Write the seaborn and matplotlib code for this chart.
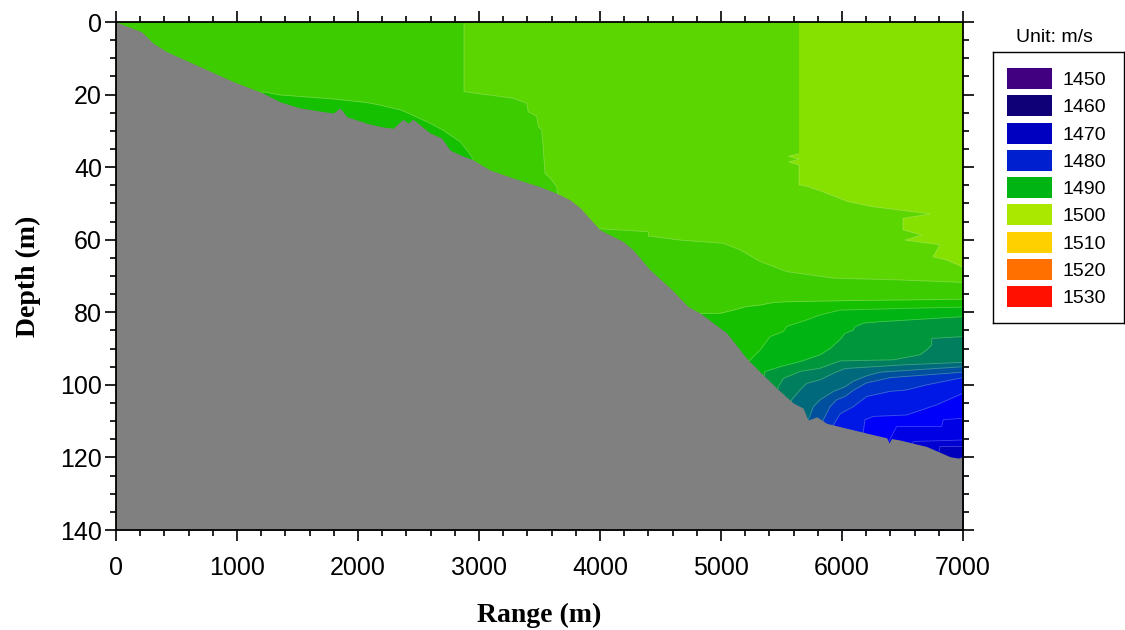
import matplotlib
matplotlib.use("Agg")
import matplotlib.pyplot as plt
from matplotlib.patches import Patch
from matplotlib.ticker import MultipleLocator
import seaborn as sns

# --- seabed profile (range in m, depth in m) ---
bed_range = [0, 212, 306, 419, 694, 967, 1215, 1355, 1521, 1795, 1851, 1908, 2072,
             2182, 2290, 2372, 2413, 2455, 2595, 2692, 2760, 2843, 2950, 3091, 3281,
             3504, 3642, 3752, 3835, 4000, 4190, 4273, 4413, 4579, 4727, 4826, 5047,
             5212, 5322, 5460, 5596, 5678, 5719, 5791, 5873, 5983, 6204, 6369, 6389,
             6409, 6479, 6700, 6893, 6960, 7000]
bed_depth = [0, 2.7, 5.8, 8.2, 12.3, 16.4, 19.6, 22.0, 23.7, 25.1, 23.7, 26.1, 27.9,
             28.8, 29.3, 26.8, 27.9, 26.8, 30.6, 32.0, 35.3, 36.6, 38.0, 40.8, 43.0,
             45.4, 47.2, 49.0, 51.2, 57.3, 60.5, 62.8, 68.3, 73.3, 78.4, 80.2, 85.7,
             92.7, 96.4, 100.9, 105.0, 106.4, 109.7, 108.8, 110.6, 111.5, 113.3, 114.6, 116.0,
             114.8, 115.2, 117.0, 119.8, 120.2, 119.8]

# --- upper water: middle block (polygon) ---
mid_range = [2876, 2876, 3008, 3281, 3394, 3406, 3477, 3490, 3518, 3530, 3545, 3587,
             3642, 3660, 3900, 4000, 4399, 4400, 4661, 5019, 5157, 5322, 5543, 5929,
             6480, 7000, 7000]
mid_depth = [0, 19.2, 19.8, 21.0, 22.4, 24.7, 26.0, 28.8, 29.8, 34.4, 41.7, 43.0,
             45.4, 50.0, 60.0, 57.0, 57.8, 59.0, 60.1, 61.0, 62.8, 66.0, 68.8, 70.6,
             71.1, 71.8, 0]

# --- upper water: right block (polygon) ---
right_range = [5645, 5645, 5560, 5645, 5560, 5645, 5645, 5700, 5843, 6050, 6256, 6727,
               6504, 6504, 6658, 6521, 6810, 6752, 6865, 6989, 7000, 7000]
right_depth = [0, 36.3, 37.0, 37.8, 38.6, 39.4, 44.9, 45.2, 46.8, 49.5, 50.9, 52.9,
               54.1, 57.3, 58.7, 60.1, 61.4, 64.7, 65.6, 67.4, 67.5, 0]

# --- deeper contour boundaries (each band is filled below its curve) ---
b4_range = [1150, 1215, 1355, 1795, 2072, 2182, 2347, 2413, 2595, 2702, 2843, 2940,
            3000, 4000, 4700, 4826, 4992, 5102, 5212, 5323, 5433, 5543, 6025, 6500, 7000]
b4_depth = [22, 19.2, 20.1, 21.2, 22.2, 22.9, 24.2, 25.1, 27.9, 29.8, 33.0, 37.1,
            45, 70, 85, 80.3, 80.3, 79.4, 78.4, 78.0, 77.3, 77.1, 76.8, 76.6, 76.4]
b5_range = [5150, 5226, 5323, 5405, 5515, 5543, 5708, 5819, 5983, 6534, 7000]
b5_depth = [100, 93.6, 90.4, 86.7, 85.3, 83.9, 82.1, 80.7, 79.4, 78.9, 78.6]
b6_range = [5300, 5364, 5488, 5653, 5819, 5901, 5983, 6024, 6093, 6107, 6176, 6314, 7000]
b6_depth = [105, 96.3, 95.0, 93.6, 91.7, 90.0, 87.5, 85.8, 84.9, 84.0, 83.0, 82.6, 81.2]
b7_range = [5420, 5474, 5515, 5653, 5819, 5983, 6424, 6644, 6699, 6741, 6741, 7000]
b7_depth = [108, 100.5, 98.2, 96.3, 95.4, 93.4, 93.1, 91.7, 90.4, 89.0, 87.2, 86.7]
b8_range = [5540, 5584, 5653, 5708, 5819, 5929, 6025, 6500, 7000]
b8_depth = [112, 104.1, 101.4, 99.6, 98.6, 96.8, 95.5, 94.5, 93.8]
b9_range = [5680, 5722, 5763, 5819, 5929, 6025, 6093, 6204, 6314, 7000]
b9_depth = [114, 109.6, 106.0, 104.1, 101.8, 100.5, 99.0, 97.5, 96.5, 95.0]
b10_range = [5800, 5846, 5901, 5956, 6025, 6093, 6200, 6400, 7000]
b10_depth = [116, 109.6, 106.0, 104.1, 103.2, 101.5, 99.5, 98.0, 96.5]
b11_range = [5880, 5929, 5984, 6093, 6204, 6396, 6534, 6699, 7000]
b11_depth = [117, 111.0, 108.0, 106.0, 103.2, 101.8, 101.4, 100.0, 98.0]
b12_range = [6130, 6176, 6190, 6259, 6534, 6782, 7000]
b12_depth = [118, 112.9, 109.6, 108.7, 108.3, 105.5, 102.3]
b13_range = [6350, 6451, 6823, 6837, 7000]
b13_depth = [118, 111.5, 111.5, 109.6, 109.2]
b14_range = [6550, 6589, 7000]
b14_depth = [120, 115.6, 115.2]
b15_range = [6780, 6810, 7000]
b15_depth = [122, 117.0, 117.0]

# band colours (left-top, middle, right-top, then deeper bands)
left_color = "#3CCC00"
mid_color = "#5CD600"
right_color = "#86E000"
deep_colors = ["#14C000", "#00B414", "#00963C", "#007E5E", "#006A7C", "#00509E",
               "#0034C8", "#0018E6", "#0000FA", "#0000E4", "#0000D0", "#0000BC"]
bed_color = "#808080"

# legend
legend_speeds = [1450, 1460, 1470, 1480, 1490, 1500, 1510, 1520, 1530]
legend_colors = ["#400080", "#100078", "#0000C0", "#0020D0", "#00B414",
                 "#AAE800", "#FFD000", "#FF7000", "#FF1000"]

sns.set_theme(style="ticks")
plt.rcParams["font.family"] = ["Liberation Sans", "DejaVu Sans"]
plt.rcParams.update({"text.color": "black", "axes.labelcolor": "black",
                     "xtick.color": "black", "ytick.color": "black"})

fig = plt.figure(figsize=(11.25, 6.3), dpi=100)
ax = fig.add_axes([116 / 1125, 1 - 530 / 630, (963 - 116) / 1125, (530 - 22) / 630])

max_depth = 140
# whole water column first, then blocks on top
ax.fill_between([0, 7000], 0, max_depth, color=left_color, lw=0)
ax.fill(mid_range, mid_depth, color=mid_color, lw=0)
ax.fill(right_range, right_depth, color=right_color, lw=0)

bounds = [(b4_range, b4_depth), (b5_range, b5_depth), (b6_range, b6_depth),
          (b7_range, b7_depth), (b8_range, b8_depth), (b9_range, b9_depth),
          (b10_range, b10_depth), (b11_range, b11_depth), (b12_range, b12_depth),
          (b13_range, b13_depth), (b14_range, b14_depth), (b15_range, b15_depth)]
for (r, d), c in zip(bounds, deep_colors):
    ax.fill_between(r, d, max_depth, color=c, lw=0)

# faint contour lines
line_sets = [(mid_range[:-1], mid_depth[:-1]), (right_range[1:-1], right_depth[1:-1])] + bounds
for r, d in line_sets:
    sns.lineplot(x=r, y=d, sort=False, estimator=None, ax=ax,
                 color="white", alpha=0.25, lw=0.6)

# seabed on top of everything in the water
ax.fill_between(bed_range, bed_depth, max_depth, color=bed_color, lw=0, zorder=2.2)

ax.set_xlim(0, 7000)
ax.set_ylim(max_depth, 0)
ax.xaxis.set_major_locator(MultipleLocator(1000))
ax.xaxis.set_minor_locator(MultipleLocator(200))
ax.yaxis.set_major_locator(MultipleLocator(20))
ax.yaxis.set_minor_locator(MultipleLocator(5))
ax.tick_params(which="both", direction="out", top=True, right=True,
               colors="black", width=1.2, labelsize=18)
ax.tick_params(which="major", length=8)
ax.tick_params(which="minor", length=4)
ax.tick_params(axis="x", which="major", pad=11)
ax.tick_params(axis="y", which="major", pad=2)
for s in ax.spines.values():
    s.set_linewidth(1.3)
    s.set_color("black")

label_font = dict(family=["Liberation Serif", "DejaVu Serif"], weight="bold", size=20)
ax.set_xlabel("Range (m)", fontdict=label_font, labelpad=16)
ax.set_ylabel("Depth (m)", fontdict=label_font, labelpad=14)

# legend box
lax = fig.add_axes([993 / 1125, 1 - 323 / 630, (1124 - 993) / 1125, (323 - 52) / 630])
lax.set_xticks([])
lax.set_yticks([])
for s in lax.spines.values():
    s.set_linewidth(1.0)
    s.set_color("black")
handles = [Patch(facecolor=c, edgecolor="none") for c in legend_colors]
lax.legend(handles, [str(v) for v in legend_speeds], loc="upper left",
           bbox_to_anchor=(0.11, 0.94), frameon=False, fontsize=14,
           handlelength=2.3, handleheight=1.28, labelspacing=0.32,
           handletextpad=0.55, borderpad=0, borderaxespad=0)
fig.text(1054 / 1125, 1 - 38 / 630, "Unit: m/s", ha="center", va="center", fontsize=14)

fig.savefig("out.png", dpi=100)
